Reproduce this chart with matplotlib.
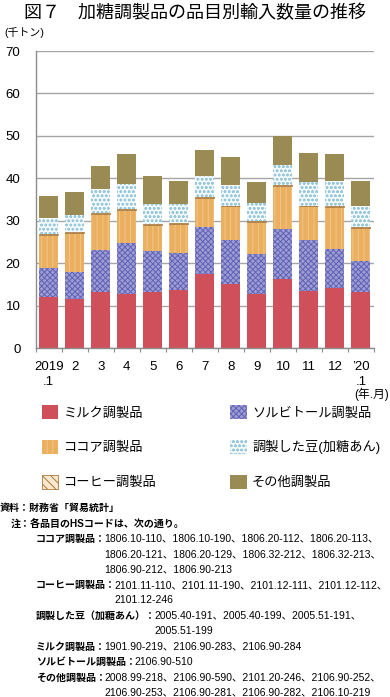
import numpy as np
import matplotlib
matplotlib.use('Agg')
import matplotlib.pyplot as plt

plt.rcParams['font.family'] = ['Liberation Sans', 'Noto Sans CJK JP']
plt.rcParams['hatch.linewidth'] = 0.7

W, H = 390, 697

# data (thousand tonnes), Jan 2019 - Jan 2020
months = ['2019\n.1', '2', '3', '4', '5', '6', '7', '8', '9', '10', '11', '12', '\u201920\n.1']
milk = [12.1, 11.6, 13.2, 12.9, 13.3, 13.8, 17.6, 15.1, 12.9, 16.3, 13.4, 14.1, 13.3]
sorbitol = [6.7, 6.4, 9.9, 11.8, 9.7, 8.6, 10.9, 10.3, 9.2, 11.8, 12.1, 9.3, 7.3]
cocoa = [7.9, 9.2, 8.5, 7.9, 6.0, 6.8, 6.9, 8.0, 7.6, 10.1, 7.9, 9.8, 7.8]
coffee = [0.2, 0.2, 0.2, 0.2, 0.2, 0.2, 0.2, 0.2, 0.2, 0.2, 0.2, 0.2, 0.2]
beans = [3.7, 4.0, 5.6, 5.8, 4.8, 4.5, 5.0, 4.8, 4.4, 4.7, 5.5, 5.9, 4.8]
other = [5.2, 5.4, 5.6, 7.1, 6.5, 5.5, 6.0, 6.6, 4.8, 6.9, 7.0, 6.5, 5.9]

names = ['ミルク調製品', 'ソルビトール調製品', 'ココア調製品', 'コーヒー調製品',
         '調製した豆(加糖あん)', 'その他調製品']

notes_head = ['資料：財務省「貿易統計」', '注：各品目のHSコードは、次の通り。']
notes = [
    ('ココア調製品：', ['1806.10-110、1806.10-190、1806.20-112、1806.20-113、',
                  '1806.20-121、1806.20-129、1806.32-212、1806.32-213、',
                  '1806.90-212、1806.90-213']),
    ('コーヒー調製品：', ['2101.11-110、2101.11-190、2101.12-111、2101.12-112、',
                   '2101.12-246']),
    ('調製した豆（加糖あん）：', ['2005.40-191、2005.40-199、2005.51-191、',
                        '2005.51-199']),
    ('ミルク調製品：', ['1901.90-219、2106.90-283、2106.90-284']),
    ('ソルビトール調製品：', ['2106.90-510']),
    ('その他調製品：', ['2008.99-218、2106.90-590、2101.20-246、2106.90-252、',
                  '2106.90-253、2106.90-281、2106.90-282、2106.10-219']),
]


def fx(px):
    return px / W


def fy(px):
    return 1 - px / H


fig = plt.figure(figsize=(W / 100, H / 100), dpi=100)
ax = fig.add_axes([fx(35.7), fy(348.3), fx(374 - 35.7), (348.3 - 51) / H])

x = np.arange(len(months))
bw = 0.73
styles = [
    dict(color='#cf4f5a', edgecolor='#cf4f5a', linewidth=0),
    dict(color='#9c9cd6', edgecolor='#6262b4', hatch='xxxxxx', linewidth=0),
    dict(color='#eab060', edgecolor='#f2c588', hatch='|||', linewidth=0),
    dict(color='#fbe8cc', edgecolor='#a87a40', hatch='\\\\\\\\', linewidth=0.6),
    dict(color='#f4fafc', edgecolor='#98c8da', hatch='oooo', linewidth=0),
    dict(color='#9a8b55', edgecolor='#9a8b55', linewidth=0),
]
series = [milk, sorbitol, cocoa, coffee, beans, other]
bottom = np.zeros(len(x))
bars = []
for vals, name, st in zip(series, names, styles):
    b = ax.bar(x, vals, bw, bottom=bottom, label=name, zorder=2, **st)
    bars.append(b)
    bottom += np.array(vals)

ax.set_xlim(-0.5, len(x) - 0.5)
ax.set_ylim(0, 70)
ax.set_yticks(np.arange(0, 71, 10))
ax.set_xticks(x)
ax.set_xticklabels(months, fontsize=9.5, linespacing=1.35, va='top')
ax.set_xticks(np.arange(-0.5, len(x), 1), minor=True)
ax.tick_params(axis='x', which='major', length=0, pad=9)
ax.tick_params(axis='x', which='minor', length=3, color='#8c8c8c', width=0.8)
ax.tick_params(axis='y', length=0, pad=11, labelsize=9.5)
ax.yaxis.grid(True, color='#a6a6a6', linewidth=1)
ax.set_axisbelow(True)
for s in ['top', 'right']:
    ax.spines[s].set_visible(False)
for s in ['left', 'bottom']:
    ax.spines[s].set_color('#8c8c8c')
    ax.spines[s].set_linewidth(1)

fig.text(0.5, fy(13), '図７　加糖調製品の品目別輸入数量の推移', ha='center', va='center',
         fontsize=13, family=['Noto Sans CJK JP'])
fig.text(fx(4), fy(33), '(千トン)', ha='left', va='center', fontsize=7.8)
fig.text(fx(389), fy(394), '(年.月)', ha='right', va='center', fontsize=8.5)

order = [0, 2, 3, 1, 4, 5]
fig.legend([bars[i] for i in order], [names[i] for i in order], ncol=2,
           loc='upper left', bbox_to_anchor=(fx(42), fy(405)), frameon=False,
           fontsize=9.5, handlelength=1.25, handleheight=1.25, handletextpad=0.4,
           labelspacing=1.55, columnspacing=5.6, borderaxespad=0, borderpad=0)

# notes
fs_lab = 7.2
fs_num = 7.5
step = 15.4
yy = 508
fig.text(fx(0), fy(yy), notes_head[0], ha='left', va='center', fontsize=fs_lab, fontweight='bold')
yy += step
fig.text(fx(10.4), fy(yy), notes_head[1], ha='left', va='center', fontsize=fs_lab, fontweight='bold')
renderer = fig.canvas.get_renderer()
for label, lines in notes:
    yy += step
    t = fig.text(fx(36), fy(yy), label, ha='left', va='center', fontsize=fs_lab, fontweight='bold')
    x1 = t.get_window_extent(renderer).x1 / W - fx(1.5)
    for i, ln in enumerate(lines):
        fig.text(x1, fy(yy), ln, ha='left', va='center', fontsize=fs_num)
        if i < len(lines) - 1:
            yy += step

fig.savefig('out.png', dpi=100)
